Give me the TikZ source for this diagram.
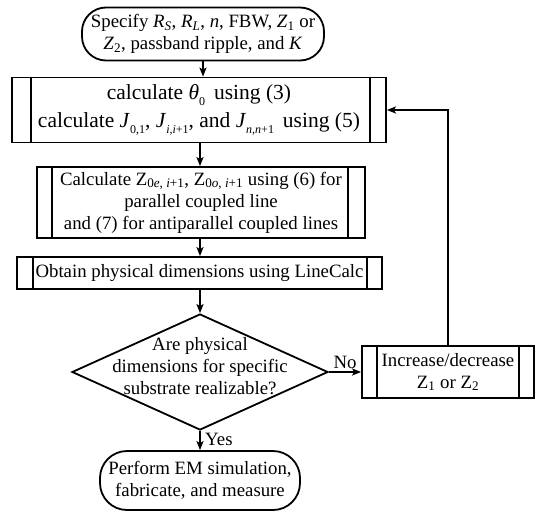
\documentclass[tikz,border=0pt]{standalone}
\usepackage{fontspec}
\setmainfont{Liberation Serif}
\usetikzlibrary{shapes.geometric,arrows.meta}
\newcommand{\lsub}[1]{\raisebox{-0.6ex}{\fontsize{12}{12}\selectfont #1}}
\newcommand{\tsub}[1]{\textsubscript{#1}}
\begin{document}
\begin{tikzpicture}[x=1pt,y=-1pt,
  every node/.style={font=\fontsize{18.8}{22}\selectfont},
  box/.style={draw, line width=1.8pt, align=center, inner sep=0pt},
  term/.style={box, rounded corners=24pt},
  proc/.style={box},
  bar/.style={line width=1.8pt},
  dec/.style={draw, line width=1.8pt, diamond, inner sep=0pt, aspect=2.2},
  arr/.style={line width=1.8pt, -{Stealth[length=9pt,width=7pt,inset=2pt]}},
  conn/.style={line width=1.8pt}
]
\useasboundingbox (0,0) rectangle (536,512);

% start
\node[term, minimum width=242pt, minimum height=53pt] (t1) at (203,34)
  {Specify \textit{R}\tsub{\textit{S}}, \textit{R}\tsub{\textit{L}}, \textit{n}, FBW, \textit{Z}\tsub{1} or\\
   \textit{Z}\tsub{2}, passband ripple, and \textit{K}};

% calculate theta / J
\node[proc, minimum width=374pt, minimum height=65pt,
      font=\fontsize{21.5}{28}\selectfont] (p2) at (199,110)
  {calculate \textit{θ}\lsub{0}\, using (3)\\
   calculate \textit{J}\lsub{0,1}, \textit{J}\lsub{\textit{i},\textit{i}+1}, and \textit{J}\lsub{\textit{n},\textit{n}+1}\, using (5)};
\draw[bar] ([xshift=20pt]p2.north west) -- ([xshift=20pt]p2.south west);
\draw[bar] ([xshift=-17pt]p2.north east) -- ([xshift=-17pt]p2.south east);

% Z0e Z0o
\node[proc, minimum width=328pt, minimum height=71pt] (p3) at (201,202.5)
  {Calculate Z\tsub{0\textit{e}, \textit{i}+1}, Z\tsub{0\textit{o}, \textit{i}+1} using (6) for\\
   parallel coupled line\\
   and (7) for antiparallel coupled lines};
\draw[bar] ([xshift=16pt]p3.north west) -- ([xshift=16pt]p3.south west);
\draw[bar] ([xshift=-18pt]p3.north east) -- ([xshift=-18pt]p3.south east);

% LineCalc
\node[proc, minimum width=365pt, minimum height=32pt] (p4) at (199.5,273)
  {Obtain physical dimensions using LineCalc};
\draw[bar] ([xshift=17pt]p4.north west) -- ([xshift=17pt]p4.south west);
\draw[bar] ([xshift=-16pt]p4.north east) -- ([xshift=-16pt]p4.south east);

% decision
\node[dec, minimum width=256pt, minimum height=116pt] (d) at (200,372) {};
\node[align=center] (dt) at (200,366)
  {Are physical\\ dimensions for specific\\ substrate realizable?};

% increase/decrease
\node[proc, minimum width=172pt, minimum height=52pt] (inc) at (448,372)
  {Increase/decrease\\ Z\tsub{1} or Z\tsub{2}};
\draw[bar] ([xshift=16pt]inc.north west) -- ([xshift=16pt]inc.south west);
\draw[bar] ([xshift=-16pt]inc.north east) -- ([xshift=-16pt]inc.south east);

% end
\node[term, rounded corners=27pt, minimum width=200pt, minimum height=59pt] (t2) at (200,480.5)
  {Perform EM simulation,\\ fabricate, and measure};

% connectors
\draw[arr] (t1.south) -- (t1.south |- p2.north);
\draw[arr] (p2.south -| d.north) -- (p3.north -| d.north);
\draw[arr] (p3.south -| d.north) -- (p4.north -| d.north);
\draw[arr] (p4.south -| d.north) -- (d.north);
\draw[arr] (d.south) -- node[right, xshift=1pt, yshift=1pt] (yes) {Yes} (t2.north);
\draw[arr] (d.east) -- node[above, yshift=-1pt, xshift=0pt] (no) {No} (inc.west);
\draw[arr] (inc.north) |- (p2.east);
\end{tikzpicture}
\end{document}
